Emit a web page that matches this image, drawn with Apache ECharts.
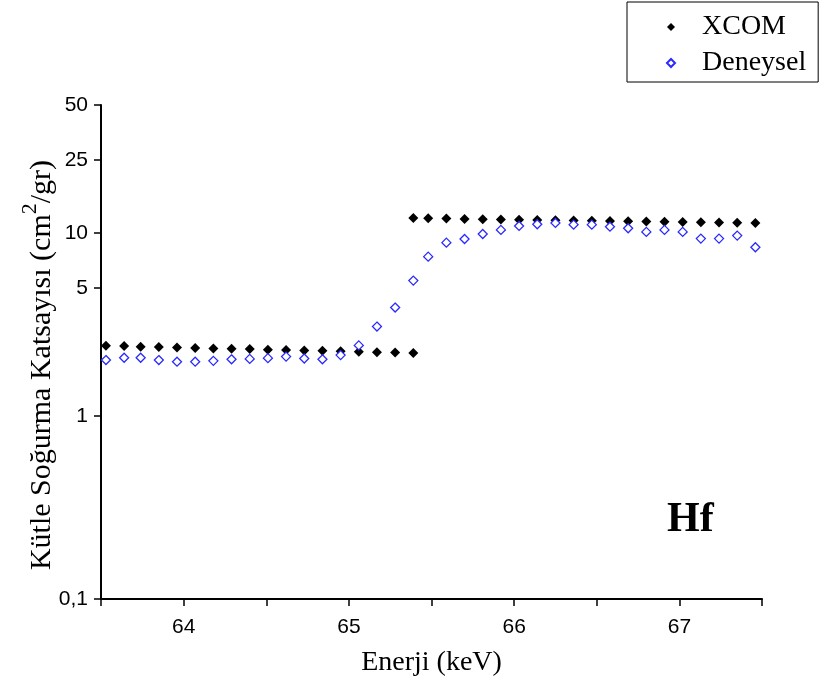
<!DOCTYPE html>
<html>
<head>
<meta charset="utf-8">
<script src="https://cdn.jsdelivr.net/npm/echarts@6.0.0/dist/echarts.min.js"></script>
<style>
  body { margin: 0; background: #fff; }
  #main { width: 820px; height: 688px; }
</style>
</head>
<body>
<div id="main"></div>
<script>
// Energy (keV) of each measurement
const energy = [
  63.53, 63.64, 63.74, 63.85, 63.96, 64.07, 64.18, 64.29, 64.40, 64.51,
  64.62, 64.73, 64.84, 64.95, 65.06, 65.17, 65.28, 65.39,
  65.48, 65.59, 65.70, 65.81, 65.92, 66.03, 66.14, 66.25, 66.36, 66.47,
  66.58, 66.69, 66.80, 66.91, 67.02, 67.13, 67.24, 67.35, 67.46
];

// XCOM values (cm2/gr), below the K edge up to 65.39 keV
const xcom = [
  2.42, 2.41, 2.39, 2.38, 2.37, 2.35, 2.34, 2.33, 2.32, 2.30,
  2.29, 2.28, 2.27, 2.26, 2.24, 2.23, 2.22, 2.21,
  12.03, 11.98, 11.93, 11.89, 11.85, 11.81, 11.77, 11.73, 11.69, 11.65,
  11.61, 11.57, 11.53, 11.50, 11.47, 11.44, 11.41, 11.38, 11.34
];
// second XCOM value at the edge energy (above the edge)
const xcomEdgeAbove = 12.07;

// Deneysel (experimental) values
const deneysel = [
  2.02, 2.08, 2.08, 2.02, 1.98, 1.98, 2.00, 2.04, 2.05, 2.07,
  2.11, 2.06, 2.04, 2.15, 2.43, 3.08, 3.91, 5.49,
  7.42, 8.85, 9.27, 9.87, 10.39, 10.92, 11.16, 11.34, 11.10, 11.10,
  10.82, 10.61, 10.13, 10.39, 10.13, 9.31, 9.31, 9.67, 8.35
];

const yTicks = [0.1, 1, 5, 10, 25, 50];

const serif = '"Liberation Serif", "Times New Roman", serif';
const sans = '"Liberation Sans", Arial, sans-serif';

const xcomData = energy.map((e, i) => [e, xcom[i]]);
xcomData.push([energy[17], xcomEdgeAbove]);
const denData = energy.map((e, i) => [e, deneysel[i]]);

const chart = echarts.init(document.getElementById('main'));

const option = {
  backgroundColor: '#fff',
  animation: false,
  title: {
    text: 'Hf',
    left: 667,
    top: 499,
    padding: 0,
    textStyle: { fontFamily: serif, fontWeight: 'bold', fontSize: 42, color: '#000' }
  },
  legend: {
    orient: 'vertical',
    left: 627,
    top: 2,
    padding: [11, 12, 5, 39],
    itemGap: 8,
    itemWidth: 8,
    itemHeight: 8,
    borderColor: '#000',
    borderWidth: 1,
    borderRadius: 0,
    backgroundColor: '#fff',
    textStyle: { fontFamily: serif, fontSize: 28, color: '#000', lineHeight: 27, padding: [0, 0, 0, 22] },
    data: [
      { name: 'XCOM', icon: 'diamond' },
      { name: 'Deneysel', icon: 'diamond' }
    ]
  },
  grid: { left: 101, right: 58, top: 105, bottom: 89 },
  xAxis: {
    type: 'value',
    min: 63.5,
    max: 67.5,
    interval: 0.5,
    name: 'Enerji (keV)',
    nameLocation: 'middle',
    nameGap: 50,
    nameTextStyle: { fontFamily: serif, fontSize: 28, color: '#000' },
    axisLine: { show: true, lineStyle: { color: '#000', width: 2 } },
    axisTick: { show: true, inside: false, length: 7, lineStyle: { color: '#000', width: 1.5 } },
    splitLine: { show: false },
    axisLabel: {
      margin: 18,
      fontFamily: sans,
      fontSize: 21,
      color: '#000',
      formatter: v => Number.isInteger(v) ? String(v) : ''
    }
  },
  yAxis: {
    type: 'log',
    logBase: 10,
    min: 0.1,
    max: 50,
    name: '{b|Kütle Soğurma Katsayısı (cm}{s|2}{b|/gr)}{p|}',
    nameLocation: 'middle',
    nameGap: 44,
    nameMoveOverlap: false,
    nameTextStyle: {
      fontFamily: serif,
      color: '#000',
      rich: {
        b: { fontFamily: serif, fontSize: 30, color: '#000', lineHeight: 38, verticalAlign: 'bottom' },
        s: { fontFamily: serif, fontSize: 22, color: '#000', lineHeight: 38, verticalAlign: 'top' },
        p: { width: 26, lineHeight: 38 }
      }
    },
    axisLine: { show: true, lineStyle: { color: '#000', width: 2 } },
    axisTick: { show: true, inside: false, length: 7, customValues: yTicks, lineStyle: { color: '#000', width: 1.5 } },
    minorTick: { show: false },
    splitLine: { show: false },
    axisLabel: {
      customValues: yTicks,
      margin: 13,
      fontFamily: sans,
      fontSize: 21,
      color: '#000',
      formatter: v => String(Math.round(v * 10) / 10).replace('.', ',')
    }
  },
  series: [
    {
      name: 'XCOM',
      type: 'scatter',
      symbol: 'diamond',
      symbolSize: 10,
      itemStyle: { color: '#000', opacity: 1 },
      emphasis: { disabled: true },
      z: 2,
      data: xcomData
    },
    {
      name: 'Deneysel',
      type: 'scatter',
      symbol: 'diamond',
      symbolSize: 9,
      itemStyle: { color: '#fff', borderColor: '#2a2aff', borderWidth: 1.3, opacity: 1 },
      emphasis: { disabled: true },
      z: 3,
      data: denData
    }
  ]
};

chart.setOption(option);
</script>
</body>
</html>
